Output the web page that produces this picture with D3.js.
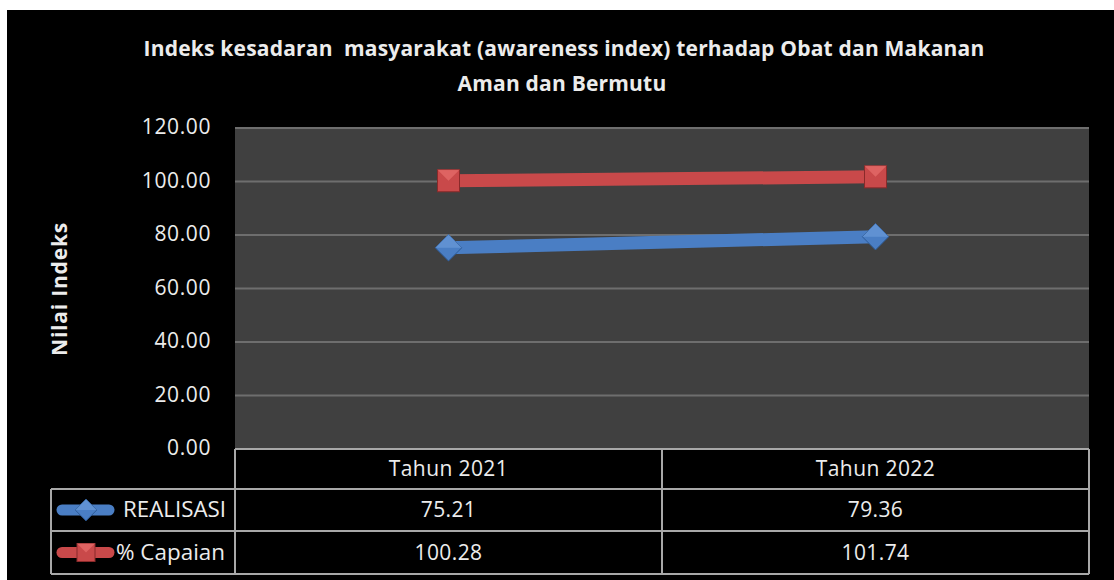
<!DOCTYPE html>
<html>
<head>
<meta charset="utf-8">
<script src="https://cdn.jsdelivr.net/npm/d3@7"></script>
<style>
body { margin: 0; background: #fff; }
svg text { font-family: "Open Sans", sans-serif; fill: #ececec; white-space: pre; }
</style>
</head>
<body>
<div id="chart"></div>
<script>
const categories = ['Tahun 2021', 'Tahun 2022'];
const realisasi = [75.21, 79.36];
const capaian = [100.28, 101.74];
const yTicks = [0, 20, 40, 60, 80, 100, 120];

const series = [
    { name: 'REALISASI', values: realisasi, color: '#4a7ec4', marker: 'diamond' },
    { name: '% Capaian', values: capaian, color: '#c9494a', marker: 'square' }
];

const W = 1114, H = 580;
const plot = { left: 235, right: 1089, top: 128, bottom: 449 };

const svg = d3.select('#chart').append('svg')
    .attr('width', W).attr('height', H);

svg.append('rect').attr('x', 7).attr('y', 10).attr('width', W - 7).attr('height', H - 10).attr('fill', '#000');

const x = d3.scaleBand().domain(categories).range([plot.left, plot.right]);
const y = d3.scaleLinear().domain([0, 120]).range([plot.bottom, plot.top]);

// title
const title = svg.append('text').attr('text-anchor', 'middle')
    .attr('font-weight', 'bold').attr('font-size', 21).attr('letter-spacing', 0.2);
title.append('tspan').attr('x', 564).attr('y', 56)
    .text('Indeks kesadaran  masyarakat (awareness index) terhadap Obat dan Makanan');
title.append('tspan').attr('x', 562).attr('y', 91).text('Aman dan Bermutu');

// y title
svg.append('text')
    .attr('transform', 'translate(67,289) rotate(-90)')
    .attr('text-anchor', 'middle').attr('font-weight', 'bold').attr('font-size', 21)
    .attr('letter-spacing', 0.8)
    .text('Nilai Indeks');

// plot background
svg.append('rect')
    .attr('x', plot.left).attr('y', plot.top)
    .attr('width', plot.right - plot.left).attr('height', plot.bottom - plot.top)
    .attr('fill', '#404040');

svg.append('g').selectAll('line').data(yTicks).join('line')
    .attr('x1', plot.left).attr('x2', plot.right)
    .attr('y1', d => y(d)).attr('y2', d => y(d))
    .attr('stroke', '#6e6e6e').attr('stroke-width', 2);

svg.append('g').selectAll('text').data(yTicks).join('text')
    .attr('x', 211).attr('y', d => y(d) - 1).attr('dy', '0.35em')
    .attr('text-anchor', 'end').attr('font-size', 21).attr('letter-spacing', 0.6)
    .text(d => d3.format('.2f')(d));

// markers
const drawMarker = (g, type, color, size) => {
    if (type === 'square') {
        g.append('rect').attr('x', -size / 2).attr('y', -size / 2)
            .attr('width', size).attr('height', size)
            .attr('fill', color).attr('stroke', '#8a2a2a').attr('stroke-width', 1);
        g.append('path').attr('d', `M${-size / 2},${-size / 2}L0,0L${size / 2},${-size / 2}Z`)
            .attr('fill', '#e46a68').attr('opacity', 0.8);
    } else {
        const s = size * 0.6;
        g.append('path').attr('d', `M0,${-s}L${s},0L0,${s}L${-s},0Z`)
            .attr('fill', color).attr('stroke', '#2d5a96').attr('stroke-width', 1);
        g.append('path').attr('d', `M${-s},0L0,${-s}L${s},0L0,0Z`)
            .attr('fill', '#6a9ad8').attr('opacity', 0.7);
    }
};

const cx = d => x(d) + x.bandwidth() / 2;
const line = d3.line().x((d, i) => cx(categories[i])).y(d => y(d));

series.forEach(s => {
    svg.append('path').attr('d', line(s.values))
        .attr('fill', 'none').attr('stroke', s.color).attr('stroke-width', 13);
    s.values.forEach((v, i) => {
        const g = svg.append('g').attr('transform', `translate(${cx(categories[i])},${y(v)})`);
        drawMarker(g, s.marker, s.color, 22);
    });
});

// data table
const rowY = [449, 489, 531, 574];
const legendLeft = 51;
const tg = svg.append('g').attr('stroke', '#a8a8a8').attr('stroke-width', 2).attr('fill', 'none');
tg.append('line').attr('x1', plot.left).attr('x2', plot.right).attr('y1', rowY[0]).attr('y2', rowY[0]);
rowY.slice(1).forEach(ry => {
    tg.append('line').attr('x1', legendLeft).attr('x2', plot.right).attr('y1', ry).attr('y2', ry);
});
[plot.left, x(categories[1]), plot.right].forEach(vx => {
    tg.append('line').attr('x1', vx).attr('x2', vx).attr('y1', rowY[0]).attr('y2', rowY[3]);
});
tg.append('line').attr('x1', legendLeft).attr('x2', legendLeft).attr('y1', rowY[1]).attr('y2', rowY[3]);

svg.append('g').selectAll('text').data(categories).join('text')
    .attr('x', d => cx(d)).attr('y', (rowY[0] + rowY[1]) / 2).attr('dy', '0.35em')
    .attr('text-anchor', 'middle').attr('font-size', 21).attr('letter-spacing', 0.4).text(d => d);

series.forEach((s, si) => {
    const mid = (rowY[si + 1] + rowY[si + 2]) / 2;
    svg.append('line').attr('x1', 62).attr('x2', 109).attr('y1', mid).attr('y2', mid)
        .attr('stroke', s.color).attr('stroke-width', 11).attr('stroke-linecap', 'round');
    drawMarker(svg.append('g').attr('transform', `translate(86,${mid})`), s.marker, s.color, 18);
    svg.append('text').attr('x', si === 0 ? 123 : 116).attr('y', mid).attr('dy', '0.35em')
        .attr('font-size', 21).attr('textLength', si === 0 ? 103 : 109)
        .attr('lengthAdjust', 'spacingAndGlyphs').text(s.name);
    s.values.forEach((v, i) => {
        svg.append('text').attr('x', cx(categories[i])).attr('y', mid).attr('dy', '0.35em')
            .attr('text-anchor', 'middle').attr('font-size', 21).attr('letter-spacing', 0.4)
            .text(d3.format('.2f')(v));
    });
});
</script>
</body>
</html>
